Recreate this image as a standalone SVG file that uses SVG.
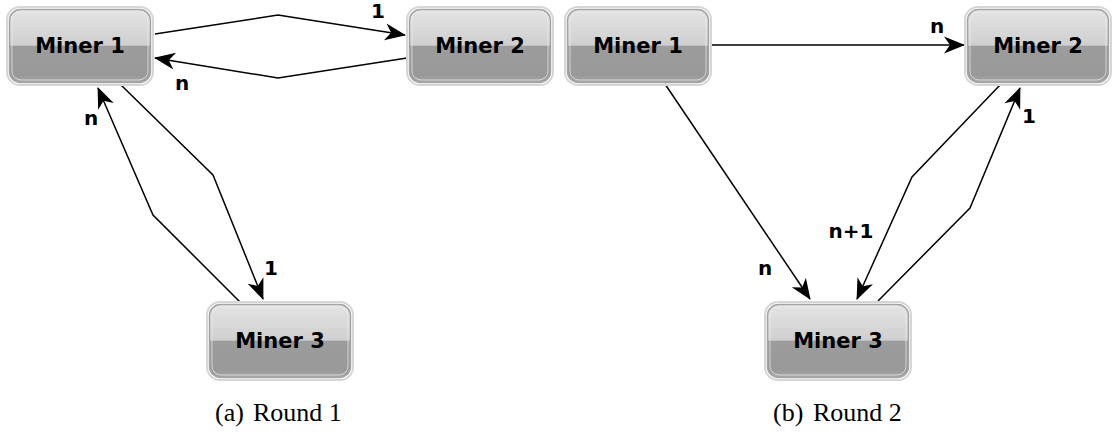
<svg xmlns="http://www.w3.org/2000/svg" width="1114" height="432" viewBox="0 0 1114 432">
<style>
.o{fill:none;stroke:#d6d6d6;stroke-width:2}
.b{fill:url(#g);stroke:#a4a4a4;stroke-width:1.5}
.h{fill:none;stroke:#ececec;stroke-width:1;opacity:.7}
.t{font-family:"DejaVu Sans",sans-serif;font-weight:bold;font-size:21px;fill:#000;text-anchor:middle}
.l{font-family:"DejaVu Sans",sans-serif;font-weight:bold;font-size:20px;fill:#000;text-anchor:middle}
.c{font-family:"Liberation Serif",serif;font-size:26px;fill:#000}
.e{fill:none;stroke:#000;stroke-width:1.5;marker-end:url(#a)}
</style>
<defs>
<linearGradient id="g" x1="0" y1="0" x2="0" y2="1">
<stop offset="0" stop-color="#e4e4e4"/>
<stop offset="0.49" stop-color="#cfcfcf"/>
<stop offset="0.5" stop-color="#9c9c9c"/>
<stop offset="0.9" stop-color="#999"/>
<stop offset="1" stop-color="#a8a8a8"/>
</linearGradient>
<marker id="a" markerUnits="userSpaceOnUse" viewBox="-23 -11 25 22" refX="0" refY="0" markerWidth="25" markerHeight="22" orient="auto" overflow="visible">
<path d="M1,0 L-20,-8.5 L-14,0 L-20,8.5 Z" fill="#000"/>
</marker>
</defs>

<g id="connectors">
<polyline class="e" points="155,34 278,15 405,35"/>
<polyline class="e" points="407,58 278,78 155,58"/>
<polyline class="e" points="121,85 213,175 263,299"/>
<polyline class="e" points="240,302 153,215 98,88"/>
<polyline class="e" points="710,45 964,45"/>
<polyline class="e" points="665,84 810,299"/>
<polyline class="e" points="1000,85 912,177 857,299"/>
<polyline class="e" points="878,301 970,208 1020,88"/>
</g>

<g id="labels">
<text class="l" x="378" y="18">1</text>
<text class="l" x="182" y="90">n</text>
<text class="l" x="91" y="125">n</text>
<text class="l" x="271" y="275">1</text>
<text class="l" x="937" y="33">n</text>
<text class="l" x="765" y="275">n</text>
<text class="l" x="851" y="238">n+1</text>
<text class="l" x="1029" y="123">1</text>
</g>

<g id="a-miner1">
<rect class="o" x="7" y="7" width="146" height="78" rx="13"/>
<rect class="b" x="9.5" y="9.5" width="141" height="73" rx="11"/>
<rect class="h" x="12" y="12" width="136" height="68" rx="9"/>
<text class="t" x="80" y="53">Miner 1</text>
</g>
<g id="a-miner2">
<rect class="o" x="407" y="7" width="146" height="78" rx="13"/>
<rect class="b" x="409.5" y="9.5" width="141" height="73" rx="11"/>
<rect class="h" x="412" y="12" width="136" height="68" rx="9"/>
<text class="t" x="480" y="53">Miner 2</text>
</g>
<g id="a-miner3">
<rect class="o" x="207" y="302" width="146" height="78" rx="13"/>
<rect class="b" x="209.5" y="304.5" width="141" height="73" rx="11"/>
<rect class="h" x="212" y="307" width="136" height="68" rx="9"/>
<text class="t" x="280" y="348">Miner 3</text>
</g>
<g id="b-miner1">
<rect class="o" x="565" y="7" width="146" height="78" rx="13"/>
<rect class="b" x="567.5" y="9.5" width="141" height="73" rx="11"/>
<rect class="h" x="570" y="12" width="136" height="68" rx="9"/>
<text class="t" x="638" y="53">Miner 1</text>
</g>
<g id="b-miner2">
<rect class="o" x="965" y="7" width="146" height="78" rx="13"/>
<rect class="b" x="967.5" y="9.5" width="141" height="73" rx="11"/>
<rect class="h" x="970" y="12" width="136" height="68" rx="9"/>
<text class="t" x="1038" y="53">Miner 2</text>
</g>
<g id="b-miner3">
<rect class="o" x="765" y="302" width="146" height="78" rx="13"/>
<rect class="b" x="767.5" y="304.5" width="141" height="73" rx="11"/>
<rect class="h" x="770" y="307" width="136" height="68" rx="9"/>
<text class="t" x="838" y="348">Miner 3</text>
</g>

<g id="captions">
<text class="c" x="215" y="421">(a)</text>
<text class="c" x="253" y="421">Round 1</text>
<text class="c" x="773" y="421">(b)</text>
<text class="c" x="813" y="421">Round 2</text>
</g>
</svg>
